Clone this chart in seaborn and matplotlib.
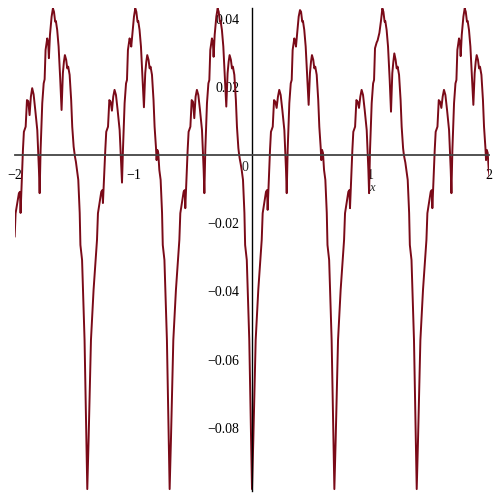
import numpy as np
import pandas as pd
import matplotlib
matplotlib.use("Agg")
import matplotlib.pyplot as plt
import seaborn as sns

nan = np.nan

# x offset of each sample point from the deep minimum that starts its cycle
cycle_dx = [0.000, 0.011, 0.031, 0.053, 0.082, 0.090, 0.118, 0.127, 0.132, 0.152,
            0.160, 0.175, 0.186, 0.197, 0.208, 0.219, 0.230, 0.242, 0.256, 0.273,
            0.287, 0.293, 0.301, 0.315, 0.327, 0.335, 0.343, 0.357, 0.365, 0.371,
            0.380, 0.394, 0.405, 0.414, 0.424, 0.430, 0.441, 0.453, 0.467, 0.478,
            0.489, 0.498, 0.506, 0.517, 0.526, 0.534, 0.546, 0.559, 0.568, 0.580,
            0.585, 0.591, 0.599, 0.608, 0.619, 0.631, 0.637, 0.651, 0.672, 0.688]

# x of the deep minima (start of each cycle)
cycle_min_x = [-2.085, -1.39, -0.695, 0.0, 0.695, 1.39]

y_cycle_a = [nan, nan, nan, nan, -0.0240, -0.0171, -0.0112, -0.0108, -0.0170, 0.0015,
             0.0068, 0.0083, 0.0161, 0.0158, 0.0117, 0.0171, 0.0196, 0.0178, 0.0132, 0.0073,
             -0.0044, -0.0112, 0.0015, 0.0152, 0.0210, 0.0222, 0.0308, 0.0342, 0.0330, 0.0284,
             0.0352, 0.0406, 0.0430, 0.0420, 0.0391, 0.0393, 0.0367, 0.0318, 0.0220, 0.0132,
             0.0240, 0.0274, 0.0293, 0.0279, 0.0254, 0.0259, 0.0235, 0.0161, 0.0083, 0.0024,
             0.0010, -0.0005, -0.0020, -0.0044, -0.0073, -0.0170, -0.0264, -0.0308, -0.0543, -0.0836]

y_cycle_b = [-0.0980, -0.0836, -0.0543, -0.0396, -0.0249, -0.0171, -0.0108, -0.0103, -0.0141, 0.0015,
             0.0068, 0.0083, 0.0161, 0.0156, 0.0130, 0.0171, 0.0191, 0.0176, 0.0132, 0.0073,
             -0.0030, -0.0081, 0.0015, 0.0152, 0.0210, 0.0220, 0.0308, 0.0342, 0.0332, 0.0318,
             0.0352, 0.0406, 0.0430, 0.0420, 0.0391, 0.0393, 0.0367, 0.0318, 0.0220, 0.0140,
             0.0240, 0.0274, 0.0293, 0.0279, 0.0254, 0.0259, 0.0235, 0.0161, 0.0083, 0.0020,
             -0.0015, 0.0015, 0.0006, -0.0044, -0.0073, -0.0170, -0.0264, -0.0308, -0.0543, -0.0836]

y_cycle_c = [-0.0980, -0.0836, -0.0543, -0.0396, -0.0249, -0.0171, -0.0108, -0.0103, -0.0156, 0.0015,
             0.0068, 0.0083, 0.0161, 0.0156, 0.0108, 0.0171, 0.0191, 0.0176, 0.0132, 0.0073,
             -0.0044, -0.0112, 0.0015, 0.0152, 0.0210, 0.0220, 0.0308, 0.0342, 0.0330, 0.0288,
             0.0352, 0.0406, 0.0430, 0.0420, 0.0391, 0.0393, 0.0367, 0.0318, 0.0220, 0.0142,
             0.0240, 0.0274, 0.0293, 0.0279, 0.0254, 0.0259, 0.0235, 0.0161, 0.0083, 0.0020,
             0.0005, -0.0010, -0.0025, -0.0044, -0.0073, -0.0170, -0.0264, -0.0308, -0.0543, -0.0836]

y_cycle_d = [-0.0980, -0.0836, -0.0543, -0.0396, -0.0249, -0.0171, -0.0108, -0.0103, -0.0161, 0.0015,
             0.0068, 0.0083, 0.0161, 0.0156, 0.0138, 0.0171, 0.0191, 0.0176, 0.0132, 0.0073,
             -0.0044, -0.0112, 0.0015, 0.0152, 0.0210, 0.0220, 0.0308, 0.0342, 0.0332, 0.0318,
             0.0352, 0.0406, 0.0425, 0.0420, 0.0391, 0.0393, 0.0367, 0.0318, 0.0220, 0.0147,
             0.0240, 0.0274, 0.0293, 0.0279, 0.0254, 0.0259, 0.0235, 0.0161, 0.0083, 0.0020,
             -0.0015, 0.0015, 0.0006, -0.0044, -0.0073, -0.0170, -0.0264, -0.0308, -0.0543, -0.0836]

y_cycle_e = [-0.0980, -0.0836, -0.0543, -0.0396, -0.0249, -0.0171, -0.0108, -0.0103, -0.0156, 0.0015,
             0.0068, 0.0083, 0.0161, 0.0156, 0.0138, 0.0171, 0.0191, 0.0176, 0.0132, 0.0073,
             -0.0044, -0.0112, 0.0015, 0.0152, 0.0210, 0.0220, 0.0313, 0.0330, 0.0336, 0.0345,
             0.0358, 0.0395, 0.0430, 0.0420, 0.0391, 0.0393, 0.0367, 0.0318, 0.0220, 0.0127,
             0.0240, 0.0274, 0.0298, 0.0279, 0.0254, 0.0259, 0.0235, 0.0161, 0.0083, 0.0020,
             0.0005, -0.0008, -0.0022, -0.0044, -0.0073, -0.0170, -0.0264, -0.0308, -0.0543, -0.0836]

y_cycle_f = [-0.0980, -0.0836, -0.0543, -0.0396, -0.0249, -0.0171, -0.0108, -0.0103, -0.0156, 0.0015,
             0.0068, 0.0083, 0.0161, 0.0156, 0.0138, 0.0171, 0.0191, 0.0176, 0.0132, 0.0073,
             -0.0044, -0.0112, 0.0015, 0.0152, 0.0210, 0.0220, 0.0308, 0.0342, 0.0330, 0.0290,
             0.0352, 0.0406, 0.0430, 0.0420, 0.0391, 0.0393, 0.0367, 0.0318, 0.0220, 0.0147,
             0.0240, 0.0274, 0.0293, 0.0279, 0.0254, 0.0259, 0.0235, 0.0161, 0.0083, 0.0020,
             -0.0015, 0.0015, 0.0006, -0.0044, -0.0075, nan, nan, nan, nan, nan]

x_major = [-2, -1, 1, 2]
x_major_labels = ["\u22122", "\u22121", "1", "2"]
x_minor = [-1.5, -0.5, 0.5, 1.5]
y_major = [0.04, 0.02, -0.02, -0.04, -0.06, -0.08]
y_major_labels = ["0.04", "0.02", "\u22120.02", "\u22120.04", "\u22120.06", "\u22120.08"]
y_minor = [0.03, 0.01, -0.01, -0.03, -0.05, -0.07, -0.09]

# build the curve
frames = []
for x0, ys in zip(cycle_min_x, [y_cycle_a, y_cycle_b, y_cycle_c, y_cycle_d, y_cycle_e, y_cycle_f]):
    frames.append(pd.DataFrame({"x": x0 + np.array(cycle_dx), "y": ys}))
df = pd.concat(frames, ignore_index=True).dropna()

sns.set_style("white")
plt.rcParams["font.family"] = ["Liberation Serif", "DejaVu Serif"]

fig = plt.figure(figsize=(5, 5), dpi=100)
ax = fig.add_axes([15 / 500, 0.0184, 0.948, 0.9662])

sns.lineplot(data=df, x="x", y="y", sort=False, estimator=None,
             color="#7a0a18", linewidth=1.4, ax=ax)

ax.set_xlim(-2, 2)
ax.set_ylim(-0.0985, 0.0432)

for side in ["top", "right"]:
    ax.spines[side].set_visible(False)
ax.spines["left"].set_position(("data", 0))
ax.spines["bottom"].set_position(("data", 0))
ax.spines["left"].set_color("black")
ax.spines["left"].set_linewidth(1.0)
ax.spines["bottom"].set_color("#444444")
ax.spines["bottom"].set_linewidth(1.3)

ax.set_xticks(x_major)
ax.set_xticklabels(x_major_labels)
ax.set_xticks(x_minor, minor=True)
ax.set_yticks(y_major)
ax.set_yticklabels(y_major_labels)
ax.set_yticks(y_minor, minor=True)

ax.tick_params(axis="both", which="major", direction="out", length=4, width=1,
               color="#333333", labelsize=10, labelcolor="black")
ax.tick_params(axis="x", which="major", pad=6)
ax.tick_params(axis="y", which="major", pad=4, length=5)
ax.tick_params(axis="both", which="minor", direction="out", length=3, width=1,
               color="#333333")

ax.set_xlabel("")
ax.set_ylabel("")
ax.text(-0.059, -0.0038, "0", ha="center", va="center", fontsize=10)
ax.text(1.01, -0.0096, "x", ha="center", va="center", fontsize=9, style="italic")

fig.savefig("out.png", dpi=100, facecolor="white")
plt.close(fig)
